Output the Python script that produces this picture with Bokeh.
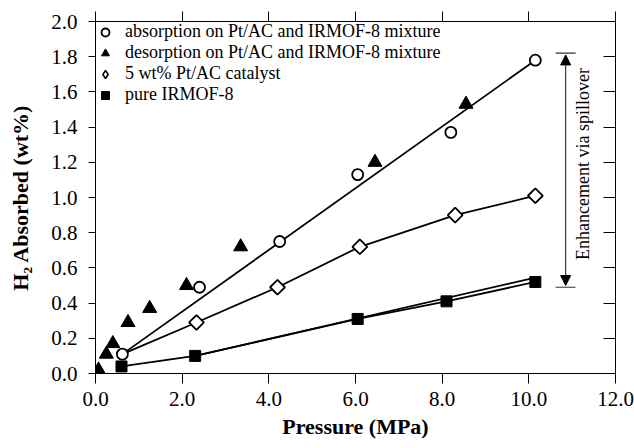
import numpy as np
from bokeh.plotting import figure
from bokeh.models import (Range1d, LinearAxis, FixedTicker, Arrow, NormalHead, Label,
                          Legend, LegendItem, PrintfTickFormatter)
from bokeh.embed import file_html
from bokeh.resources import INLINE

# ---------------- data ----------------
abs_x = [0.62, 2.40, 4.25, 6.05, 8.20, 10.15]
abs_y = [0.11, 0.49, 0.75, 1.13, 1.37, 1.78]

des_x = [0.07, 0.25, 0.40, 0.75, 1.25, 2.10, 3.35, 6.45, 8.55]
des_y = [0.02, 0.11, 0.17, 0.29, 0.37, 0.50, 0.72, 1.20, 1.53]

cat_x = [2.33, 4.20, 6.10, 8.30, 10.15]
cat_y = [0.29, 0.49, 0.72, 0.90, 1.01]

irm_x = [0.60, 2.30, 6.05, 8.10, 10.15]
irm_y = [0.04, 0.10, 0.31, 0.41, 0.52]

irm_fit_x = [2.30, 10.15]
irm_fit_y = [0.10, 0.545]

x_ticks = [0, 2, 4, 6, 8, 10, 12]
y_ticks = [0.0, 0.2, 0.4, 0.6, 0.8, 1.0, 1.2, 1.4, 1.6, 1.8, 2.0]

legend_labels = ["absorption on Pt/AC and IRMOF-8 mixture",
                 "desorption on Pt/AC and IRMOF-8 mixture",
                 "5 wt% Pt/AC catalyst",
                 "pure IRMOF-8"]

FONT = "Liberation Serif"

p = figure(frame_width=520, frame_height=352, output_backend="svg", toolbar_location=None,
           x_range=Range1d(0, 12), y_range=Range1d(0, 2),
           min_border_left=95, min_border_right=19, min_border_top=21, min_border_bottom=75)
p.outline_line_color = None
p.grid.visible = False
p.background_fill_color = "white"
p.border_fill_color = "white"

# axes
xa = p.xaxis[0]
xa.ticker = FixedTicker(ticks=x_ticks)
xa.formatter = PrintfTickFormatter(format="%.1f")
xa.axis_label = "Pressure (MPa)"
ya = p.yaxis[0]
ya.ticker = FixedTicker(ticks=y_ticks)
ya.formatter = PrintfTickFormatter(format="%.1f")
ya.axis_label = "H\u2082 Absorbed (wt%)"

for ax in (xa, ya):
    ax.axis_label_text_font = FONT
    ax.axis_label_text_font_style = "bold"
    ax.axis_label_text_font_size = "22px"
    ax.axis_label_text_color = "black"
    ax.major_label_text_font = FONT
    ax.major_label_text_font_size = "21px"
    ax.major_label_text_color = "black"
    ax.minor_tick_line_color = None
    ax.major_tick_in = 0
    ax.axis_line_color = "black"
    ax.major_tick_line_color = "black"
xa.major_tick_out = 10
xa.major_label_standoff = 8
xa.axis_label_standoff = 5
ya.major_tick_out = 7
ya.major_label_standoff = 11
ya.axis_label_standoff = 15

top = LinearAxis(ticker=FixedTicker(ticks=x_ticks), major_label_text_font_size="1px",
                 major_label_text_color=None, major_tick_out=10, major_tick_in=0,
                 minor_tick_line_color=None, major_label_standoff=0)
right = LinearAxis(ticker=FixedTicker(ticks=y_ticks), major_label_text_font_size="1px",
                   major_label_text_color=None, major_tick_out=0, major_tick_in=12,
                   minor_tick_line_color=None, major_label_standoff=0)
p.add_layout(top, "above")
p.add_layout(right, "right")

LW = 1.8
# lines
p.line([abs_x[0], abs_x[-1]], [abs_y[0], abs_y[-1]], line_color="black", line_width=LW)
p.line([abs_x[0]] + cat_x, [abs_y[0]] + cat_y, line_color="black", line_width=LW)
p.line(irm_x, irm_y, line_color="black", line_width=LW)
p.line(irm_fit_x, irm_fit_y, line_color="black", line_width=LW)

# markers
r_abs = p.scatter(abs_x, abs_y, marker="circle", size=11, fill_color="white",
                  line_color="black", line_width=1.8)
r_des = p.scatter(des_x, des_y, marker="triangle", size=14, fill_color="black",
                  line_color="black")
# diamond glyph (used for the legend key), covered by the rotated squares
r_cat_key = p.scatter(cat_x, cat_y, marker="diamond", size=11, fill_color="white",
                      line_color="black", line_width=1.5)
r_cat = p.scatter(cat_x, cat_y, marker="square", size=10.5, angle=np.pi / 4,
                  fill_color="white", line_color="black", line_width=1.8)
r_irm = p.scatter(irm_x, irm_y, marker="square", size=11, fill_color="black",
                  line_color="black")

legend = Legend(items=[LegendItem(label=legend_labels[0], renderers=[r_abs]),
                       LegendItem(label=legend_labels[1], renderers=[r_des]),
                       LegendItem(label=legend_labels[2], renderers=[r_cat_key]),
                       LegendItem(label=legend_labels[3], renderers=[r_irm])],
                location="top_left", margin=0, padding=7, spacing=0,
                glyph_width=20, glyph_height=20, label_standoff=10,
                label_text_font=FONT, label_text_font_size="18px",
                label_text_color="black", label_height=20,
                border_line_color=None, background_fill_alpha=0)
p.add_layout(legend)

# annotation: enhancement via spillover
arr_x = 10.85
p.add_layout(Arrow(x_start=arr_x, y_start=0.50, x_end=arr_x, y_end=1.81,
                   line_color="#333333", line_width=1.2,
                   start=NormalHead(size=10, fill_color="black", line_color="black"),
                   end=NormalHead(size=10, fill_color="black", line_color="black")))
p.segment(x0=[10.62, 10.62], x1=[11.08, 11.08], y0=[1.82, 0.49], y1=[1.82, 0.49],
          line_color="#333333", line_width=1.2)
p.add_layout(Label(x=11.25, y=1.19, text="Enhancement via spillover", angle=np.pi / 2,
                   text_align="center", text_baseline="middle", text_font=FONT,
                   text_font_size="18px", text_color="black"))

open("out.html", "w").write(file_html(p, INLINE))
